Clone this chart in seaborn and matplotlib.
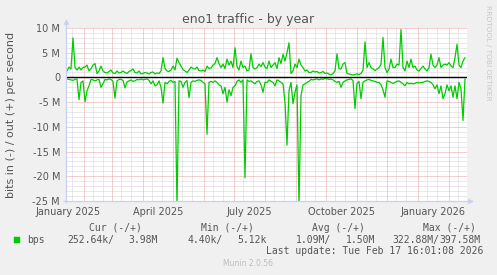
import matplotlib
matplotlib.use("Agg")
import matplotlib.pyplot as plt
import numpy as np
import pandas as pd
import seaborn as sns
from matplotlib.patches import Rectangle

# ---------------- data (Mbit/s, one sample every 2 days) ----------------
start_date = "2025-01-15"
step_days = 2
out_mbps = [
    1.3, 2.1, 1.7, 8.0, 2.0, 1.5, 2.1, 1.5, 2.0, 2.1,
    2.5, 1.3, 1.7, 2.5, 2.8, 0.8, 1.3, 2.3, 1.3, 1.0,
    0.9, 1.2, 1.5, 0.9, 0.8, 1.3, 0.9, 1.0, 1.3, 1.0,
    0.8, 1.2, 1.4, 1.7, 1.0, 0.9, 1.3, 0.7, 0.8, 1.0,
    0.9, 0.7, 1.0, 1.1, 0.7, 0.9, 0.8, 1.3, 4.0, 1.8,
    1.3, 1.2, 1.5, 2.3, 1.5, 3.9, 3.0, 2.3, 1.6, 1.3,
    1.0, 1.5, 2.1, 1.8, 1.7, 2.1, 1.4, 1.3, 1.5, 1.2,
    2.3, 1.8, 1.9, 2.5, 2.8, 4.0, 2.8, 2.0, 2.7, 1.8,
    3.7, 2.5, 3.3, 2.0, 6.0, 2.2, 1.5, 3.3, 2.0, 2.3,
    1.3, 1.5, 4.8, 2.0, 1.7, 2.0, 2.7, 2.2, 3.0, 2.1,
    1.8, 3.3, 2.0, 2.5, 3.0, 1.8, 4.0, 2.8, 4.7, 3.3,
    5.0, 7.0, 0.8, 1.3, 2.7, 2.0, 3.7, 2.5, 2.0, 1.3,
    1.5, 1.0, 1.0, 1.3, 1.1, 1.2, 0.9, 1.0, 1.2, 0.8,
    0.9, 0.7, 0.5, 0.8, 1.3, 4.8, 1.8, 1.7, 2.7, 3.0,
    0.8, 0.7, 0.6, 0.5, 0.6, 0.7, 0.6, 0.8, 1.5, 7.2,
    2.0, 3.0, 2.0, 1.7, 1.4, 1.7, 2.0, 2.6, 8.1, 2.0,
    1.0, 1.7, 3.7, 2.0, 2.0, 2.7, 2.5, 9.7, 2.0, 1.3,
    3.3, 2.0, 3.7, 2.0, 2.3, 1.5, 1.3, 1.8, 2.3, 1.7,
    1.3, 2.0, 4.7, 2.5, 2.0, 2.5, 4.0, 2.0, 2.5, 2.7,
    2.5, 3.0, 2.3, 2.0, 4.0, 6.7, 2.5, 2.0, 3.3, 4.0,
]
in_mbps = [
    0.3, 0.4, 0.5, 0.6, 0.4, 0.3, 4.5, 1.0, 0.7, 4.9,
    2.7, 1.7, 0.4, 0.5, 0.7, 0.5, 0.4, 2.0, 1.3, 0.4,
    0.5, 0.3, 0.4, 0.8, 4.2, 0.7, 0.4, 0.4, 0.6, 2.1,
    0.9, 0.7, 0.5, 0.8, 0.7, 0.4, 0.5, 0.3, 0.5, 0.4,
    0.3, 0.6, 1.3, 0.7, 1.7, 1.5, 0.7, 2.0, 5.2, 1.0,
    1.3, 0.8, 0.6, 1.0, 0.8, 26.0, 0.7, 0.8, 2.0, 1.0,
    0.6, 4.1, 1.0, 0.7, 0.8, 0.6, 0.5, 0.6, 1.0, 1.3,
    11.5, 1.0, 0.8, 1.0, 0.7, 1.0, 1.5, 1.7, 3.3, 2.0,
    5.0, 2.5, 3.7, 2.0, 1.7, 0.8, 0.5, 1.0, 0.5, 20.3,
    0.5, 0.8, 0.7, 1.0, 1.3, 0.8, 0.7, 1.5, 3.0, 1.0,
    1.0, 0.5, 0.8, 1.0, 1.7, 0.5, 0.7, 1.0, 1.3, 5.0,
    13.7, 2.7, 1.0, 5.3, 3.0, 1.5, 26.0, 3.7, 1.5, 1.3,
    1.0, 0.8, 0.4, 0.5, 0.4, 0.3, 0.5, 0.3, 0.4, 0.2,
    0.3, 0.4, 0.3, 0.5, 0.8, 1.0, 0.8, 2.0, 1.0, 0.7,
    0.5, 0.4, 0.3, 0.6, 6.3, 1.2, 0.8, 4.3, 1.0, 0.7,
    0.5, 0.4, 0.6, 0.7, 0.8, 1.0, 1.0, 1.5, 2.5, 4.0,
    0.7, 0.8, 1.0, 1.2, 1.0, 0.8, 0.7, 1.0, 1.3, 1.7,
    1.0, 1.3, 1.2, 1.3, 1.2, 1.0, 1.1, 1.0, 1.0, 0.8,
    0.7, 0.8, 1.0, 1.5, 2.3, 1.5, 3.3, 1.7, 4.3, 3.3,
    1.5, 2.7, 1.7, 4.0, 1.7, 4.3, 1.0, 2.3, 8.7, 0.3,
]
ytick_values = [-25e6, -20e6, -15e6, -10e6, -5e6, 0, 5e6, 10e6]
ytick_labels = ["-25 M", "-20 M", "-15 M", "-10 M", "-5 M", "0", "5 M", "10 M"]
xtick_dates = ["2025-01-16", "2025-04-16", "2025-07-16", "2025-10-16", "2026-01-16"]
xtick_labels = ["January 2025", "April 2025", "July 2025", "October 2025", "January 2026"]
legend_headers = ["Cur (-/+)", "Min (-/+)", "Avg (-/+)", "Max (-/+)"]
legend_values = ["252.64k/", "3.98M", "4.40k/", "5.12k", "1.09M/", "1.50M", "322.88M/", "397.58M"]
title = "eno1 traffic - by year"
ylabel = "bits in (-) / out (+) per second"
last_update = "Last update: Tue Feb 17 16:01:08 2026"

# ---------------- styling ----------------
sns.set_theme(style="white")
plt.rcParams["font.family"] = ["DejaVu Sans"]

W, H = 497, 275
BG = "#F0F0F0"
FONT_C = "#555555"
GREEN = "#00CC00"
AXIS_C = "#C8D0F4"

fig = plt.figure(figsize=(W / 100, H / 100), dpi=100, facecolor=BG)
x0, x1, ytop, ybot = 67, 466.5, 28, 201
ax = fig.add_axes([x0 / W, (H - ybot) / H, (x1 - x0) / W, (ybot - ytop) / H])
ax.set_facecolor("white")

dates = pd.date_range(start_date, periods=len(out_mbps), freq=f"{step_days}D")
df = pd.DataFrame({
    "date": dates,
    "out": np.array(out_mbps) * 1e6,
    "in": -np.array(in_mbps) * 1e6,
})

t0 = pd.Timestamp(start_date)
t1 = t0 + pd.Timedelta(days=(x1 - x0))
ax.set_xlim(t0, t1)
ax.set_ylim(-25e6, 10e6)

# grid: minor (gray) and major (red) dotted lines
for v in np.arange(-25e6, 10e6 + 1, 1e6):
    if v % 5e6 != 0:
        ax.axhline(v, color="#D4D4D4", lw=0.72, ls=(0, (1, 1)), zorder=0)
minor_x = pd.date_range("2025-01-01", "2026-03-01", freq="D")
minor_x = [d for d in minor_x if d.day in (10, 20)]
for d in minor_x:
    ax.axvline(d, color="#D4D4D4", lw=0.72, ls=(0, (1, 1)), zorder=0)
for v in ytick_values:
    ax.axhline(v, color="#EBA0A0", lw=0.72, ls=(0, (1, 1)), zorder=0.5)
for d in pd.date_range("2025-02-01", "2026-02-01", freq="MS"):
    ax.axvline(d, color="#EBA0A0", lw=0.72, ls=(0, (1, 1)), zorder=0.5)

sns.lineplot(data=df, x="date", y="out", color=GREEN, lw=0.9, ax=ax, zorder=3)
sns.lineplot(data=df, x="date", y="in", color=GREEN, lw=0.9, ax=ax, zorder=3)
ax.axhline(0, color="black", lw=1.0, zorder=4)

ax.set_yticks(ytick_values)
ax.set_yticklabels(ytick_labels)
ax.set_xticks(pd.to_datetime(xtick_dates))
ax.set_xticklabels(xtick_labels)
ax.tick_params(axis="both", length=0, labelsize=7, colors=FONT_C)
ax.tick_params(axis="y", pad=5, labelsize=7)
ax.tick_params(axis="x", pad=4)
ax.set_xlabel("")
ax.set_ylabel("")
for s in ax.spines.values():
    s.set_visible(False)
ax.grid(False)

# axis lines with arrows (figure pixel coords)
def fp(x, y):
    return (x, H - y)

ax.annotate("", xy=fp(66.5, 19), xytext=fp(66.5, 203), xycoords="figure pixels",
            textcoords="figure pixels",
            arrowprops=dict(arrowstyle="-|>", color=AXIS_C, lw=0.9, mutation_scale=7,
                            shrinkA=0, shrinkB=0))
ax.annotate("", xy=fp(474, 201.5), xytext=fp(64, 201.5), xycoords="figure pixels",
            textcoords="figure pixels",
            arrowprops=dict(arrowstyle="-|>", color=AXIS_C, lw=0.9, mutation_scale=7,
                            shrinkA=0, shrinkB=0))

def ftext(x, y, s, **kw):
    fig.text(x / W, 1 - y / H, s, **kw)

ftext(248, 20, title, ha="center", va="center", fontsize=9, color=FONT_C)
ftext(11, 115, ylabel, ha="center", va="center", rotation=90, fontsize=8, color=FONT_C)
ftext(488, 53, "RRDTOOL / TOBI OETIKER", ha="center", va="center", rotation=-90,
      fontsize=5.4, color="#C8C8C8")

mono = dict(family="DejaVu Sans Mono", fontsize=7, color=FONT_C, va="center")
for hx, h in zip([89, 201, 312, 423], legend_headers):
    ftext(hx, 228, h, ha="left", **mono)
fig.add_artist(Rectangle((14 / W, 1 - 242.5 / H), 5.5 / W, 5.5 / H,
                         transform=fig.transFigure, facecolor=GREEN, edgecolor=GREEN, lw=0.3))
ftext(27, 240, "bps", ha="left", **mono)
for vx, v in zip([67, 128, 187, 237, 296, 346, 392, 439], legend_values):
    ftext(vx, 240, v, ha="left", **mono)
ftext(483, 251, last_update, ha="right", **mono)
ftext(248, 264, "Munin 2.0.56", ha="center", va="center", fontsize=5.5, color="#BDBDBD")

fig.savefig("out.png", dpi=100, facecolor=BG)
